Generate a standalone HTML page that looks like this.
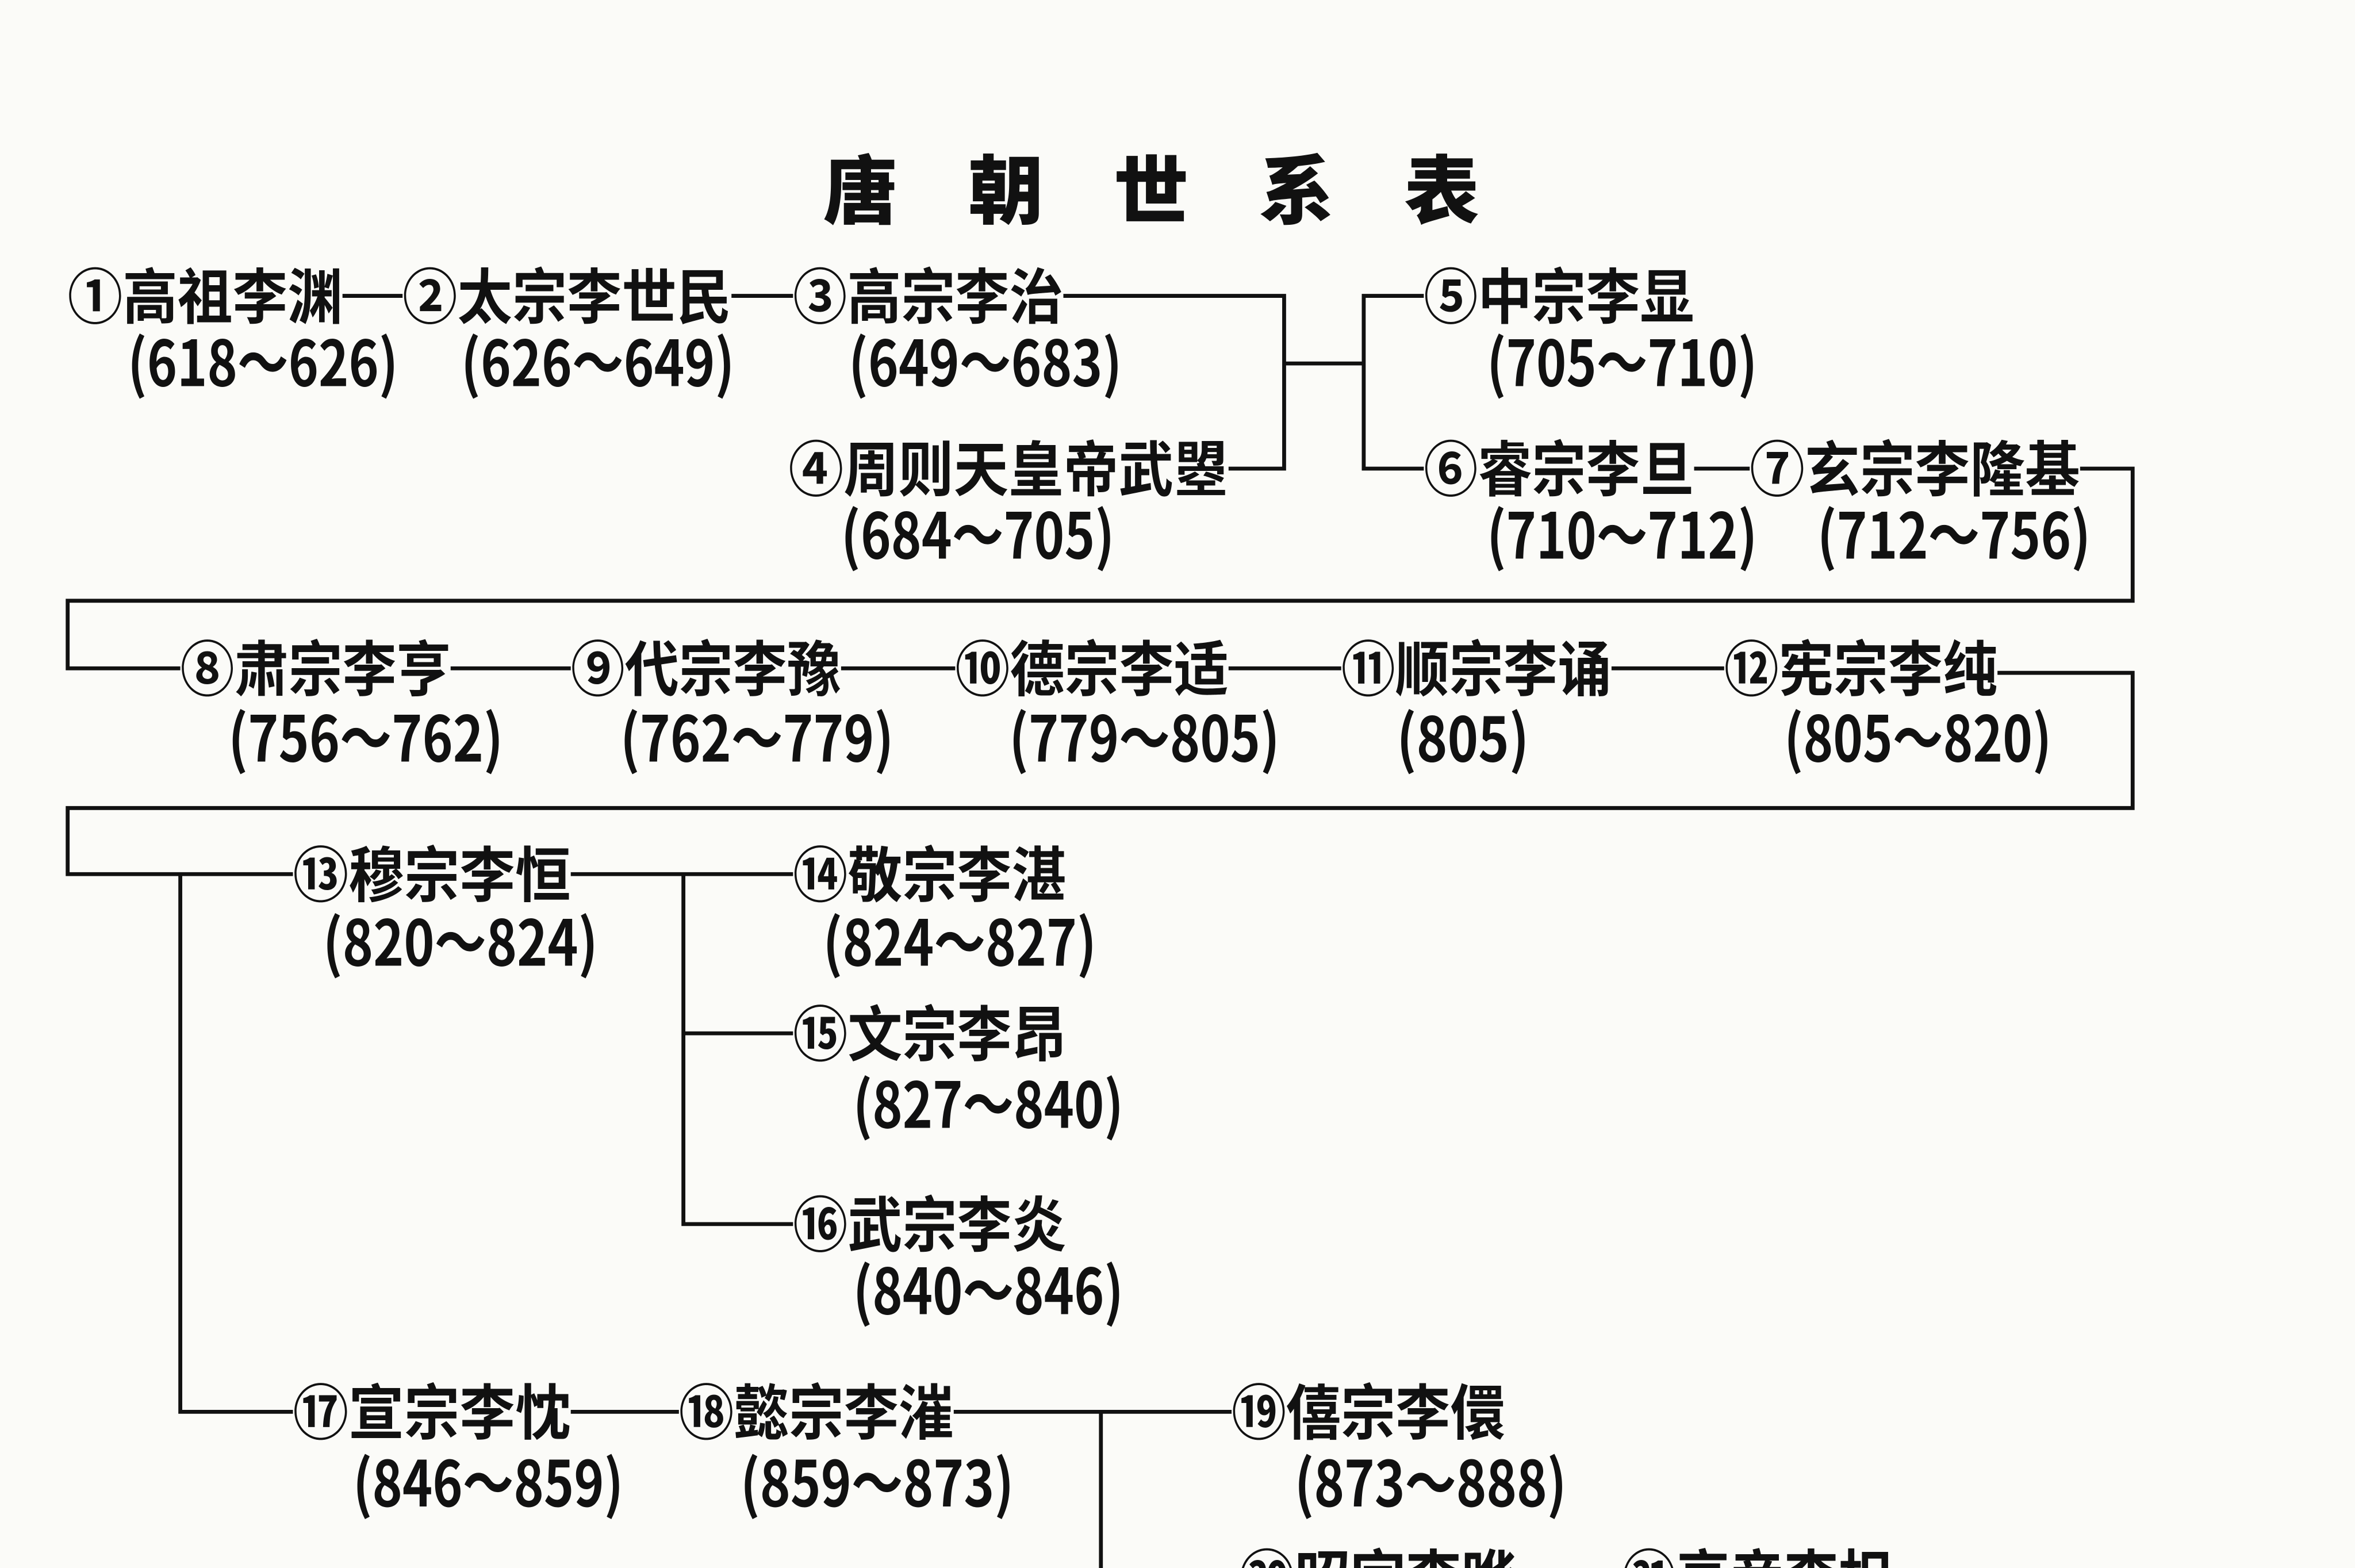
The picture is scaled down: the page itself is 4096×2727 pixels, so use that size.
<!DOCTYPE html>
<html><head><meta charset="utf-8"><style>
html,body{margin:0;padding:0;background:#fbfbf8}
svg{display:block}
text{font-family:"Liberation Sans","Noto Sans CJK SC",sans-serif;fill:#111}
.n{font-size:40px;font-weight:bold;font-family:"Noto Sans CJK SC",sans-serif}
.d{font-size:42px;font-weight:bold;font-family:"Noto Sans CJK SC",sans-serif}
.t{font-size:50px;font-weight:900;font-family:"Noto Sans CJK SC",sans-serif}
line,polyline{stroke:#111;stroke-width:2.6;fill:none}
</style></head><body>
<svg width="4096" height="2727" viewBox="0 0 1568 1044" xmlns="http://www.w3.org/2000/svg">
<rect width="1568" height="1044" fill="#fbfbf8"/>
<text class="t" x="548" y="145" textLength="437" lengthAdjust="spacing">唐朝世系表</text>

<polyline points="228,197 268,197"/>
<polyline points="487,197 528,197"/>
<polyline points="708,197 855,197 855,312 818,312"/>
<polyline points="855,242 908,242"/>
<polyline points="948,197 908,197 908,312 948,312"/>
<polyline points="1128,312 1165,312"/>
<polyline points="1385,312 1420,312 1420,400 45,400 45,445 120,445"/>
<polyline points="300,445 380,445"/>
<polyline points="560,445 636,445"/>
<polyline points="818,445 893,445"/>
<polyline points="1073,445 1148,445"/>
<polyline points="1330,448 1420,448 1420,538 45,538 45,582 195,582"/>
<polyline points="380,582 528,582"/>
<polyline points="455,582 455,815 528,815"/>
<polyline points="455,688 528,688"/>
<polyline points="120,582 120,940 195,940"/>
<polyline points="380,940 452,940"/>
<polyline points="635,940 820,940"/>
<polyline points="733,940 733,1044"/>
<polyline points="1010,1050 1080,1050"/>

<g class="n">
<text class="n" x="45" y="212" textLength="183" lengthAdjust="spacingAndGlyphs">①高祖李渊</text>
<text class="n" x="268" y="212" textLength="219" lengthAdjust="spacingAndGlyphs">②太宗李世民</text>
<text class="n" x="528" y="212" textLength="180" lengthAdjust="spacingAndGlyphs">③高宗李治</text>
<text class="n" x="525" y="327" textLength="293" lengthAdjust="spacingAndGlyphs">④周则天皇帝武曌</text>
<text class="n" x="948" y="212" textLength="180" lengthAdjust="spacingAndGlyphs">⑤中宗李显</text>
<text class="n" x="948" y="327" textLength="180" lengthAdjust="spacingAndGlyphs">⑥睿宗李旦</text>
<text class="n" x="1165" y="327" textLength="220" lengthAdjust="spacingAndGlyphs">⑦玄宗李隆基</text>
<text class="n" x="120" y="460" textLength="180" lengthAdjust="spacingAndGlyphs">⑧肃宗李亨</text>
<text class="n" x="380" y="460" textLength="180" lengthAdjust="spacingAndGlyphs">⑨代宗李豫</text>
<text class="n" x="636" y="460" textLength="182" lengthAdjust="spacingAndGlyphs">⑩德宗李适</text>
<text class="n" x="893" y="460" textLength="180" lengthAdjust="spacingAndGlyphs">⑪顺宗李诵</text>
<text class="n" x="1148" y="460" textLength="182" lengthAdjust="spacingAndGlyphs">⑫宪宗李纯</text>
<text class="n" x="195" y="597" textLength="185" lengthAdjust="spacingAndGlyphs">⑬穆宗李恒</text>
<text class="n" x="528" y="597" textLength="182" lengthAdjust="spacingAndGlyphs">⑭敬宗李湛</text>
<text class="n" x="528" y="703" textLength="182" lengthAdjust="spacingAndGlyphs">⑮文宗李昂</text>
<text class="n" x="528" y="830" textLength="182" lengthAdjust="spacingAndGlyphs">⑯武宗李炎</text>
<text class="n" x="195" y="955" textLength="185" lengthAdjust="spacingAndGlyphs">⑰宣宗李忱</text>
<text class="n" x="452" y="955" textLength="183" lengthAdjust="spacingAndGlyphs">⑱懿宗李漼</text>
<text class="n" x="820" y="955" textLength="182" lengthAdjust="spacingAndGlyphs">⑲僖宗李儇</text>
<text class="n" x="825" y="1065" textLength="185" lengthAdjust="spacingAndGlyphs">⑳昭宗李晔</text>
<text class="n" x="1080" y="1065" textLength="180" lengthAdjust="spacingAndGlyphs">㉑哀帝李柷</text>
</g>

<text class="d" x="85" y="257" textLength="180" lengthAdjust="spacingAndGlyphs">(618～626)</text>
<text class="d" x="307" y="257" textLength="182" lengthAdjust="spacingAndGlyphs">(626～649)</text>
<text class="d" x="565" y="257" textLength="182" lengthAdjust="spacingAndGlyphs">(649～683)</text>
<text class="d" x="560" y="372" textLength="182" lengthAdjust="spacingAndGlyphs">(684～705)</text>
<text class="d" x="990" y="257" textLength="180" lengthAdjust="spacingAndGlyphs">(705～710)</text>
<text class="d" x="990" y="372" textLength="180" lengthAdjust="spacingAndGlyphs">(710～712)</text>
<text class="d" x="1210" y="372" textLength="182" lengthAdjust="spacingAndGlyphs">(712～756)</text>
<text class="d" x="152" y="507" textLength="183" lengthAdjust="spacingAndGlyphs">(756～762)</text>
<text class="d" x="413" y="507" textLength="182" lengthAdjust="spacingAndGlyphs">(762～779)</text>
<text class="d" x="672" y="507" textLength="180" lengthAdjust="spacingAndGlyphs">(779～805)</text>
<text class="d" x="930" y="507" textLength="88" lengthAdjust="spacingAndGlyphs">(805)</text>
<text class="d" x="1188" y="507" textLength="178" lengthAdjust="spacingAndGlyphs">(805～820)</text>
<text class="d" x="215" y="643" textLength="183" lengthAdjust="spacingAndGlyphs">(820～824)</text>
<text class="d" x="548" y="643" textLength="182" lengthAdjust="spacingAndGlyphs">(824～827)</text>
<text class="d" x="568" y="751" textLength="180" lengthAdjust="spacingAndGlyphs">(827～840)</text>
<text class="d" x="568" y="875" textLength="180" lengthAdjust="spacingAndGlyphs">(840～846)</text>
<text class="d" x="235" y="1003" textLength="180" lengthAdjust="spacingAndGlyphs">(846～859)</text>
<text class="d" x="493" y="1003" textLength="182" lengthAdjust="spacingAndGlyphs">(859～873)</text>
<text class="d" x="862" y="1003" textLength="181" lengthAdjust="spacingAndGlyphs">(873～888)</text>
</svg>
</body></html>
